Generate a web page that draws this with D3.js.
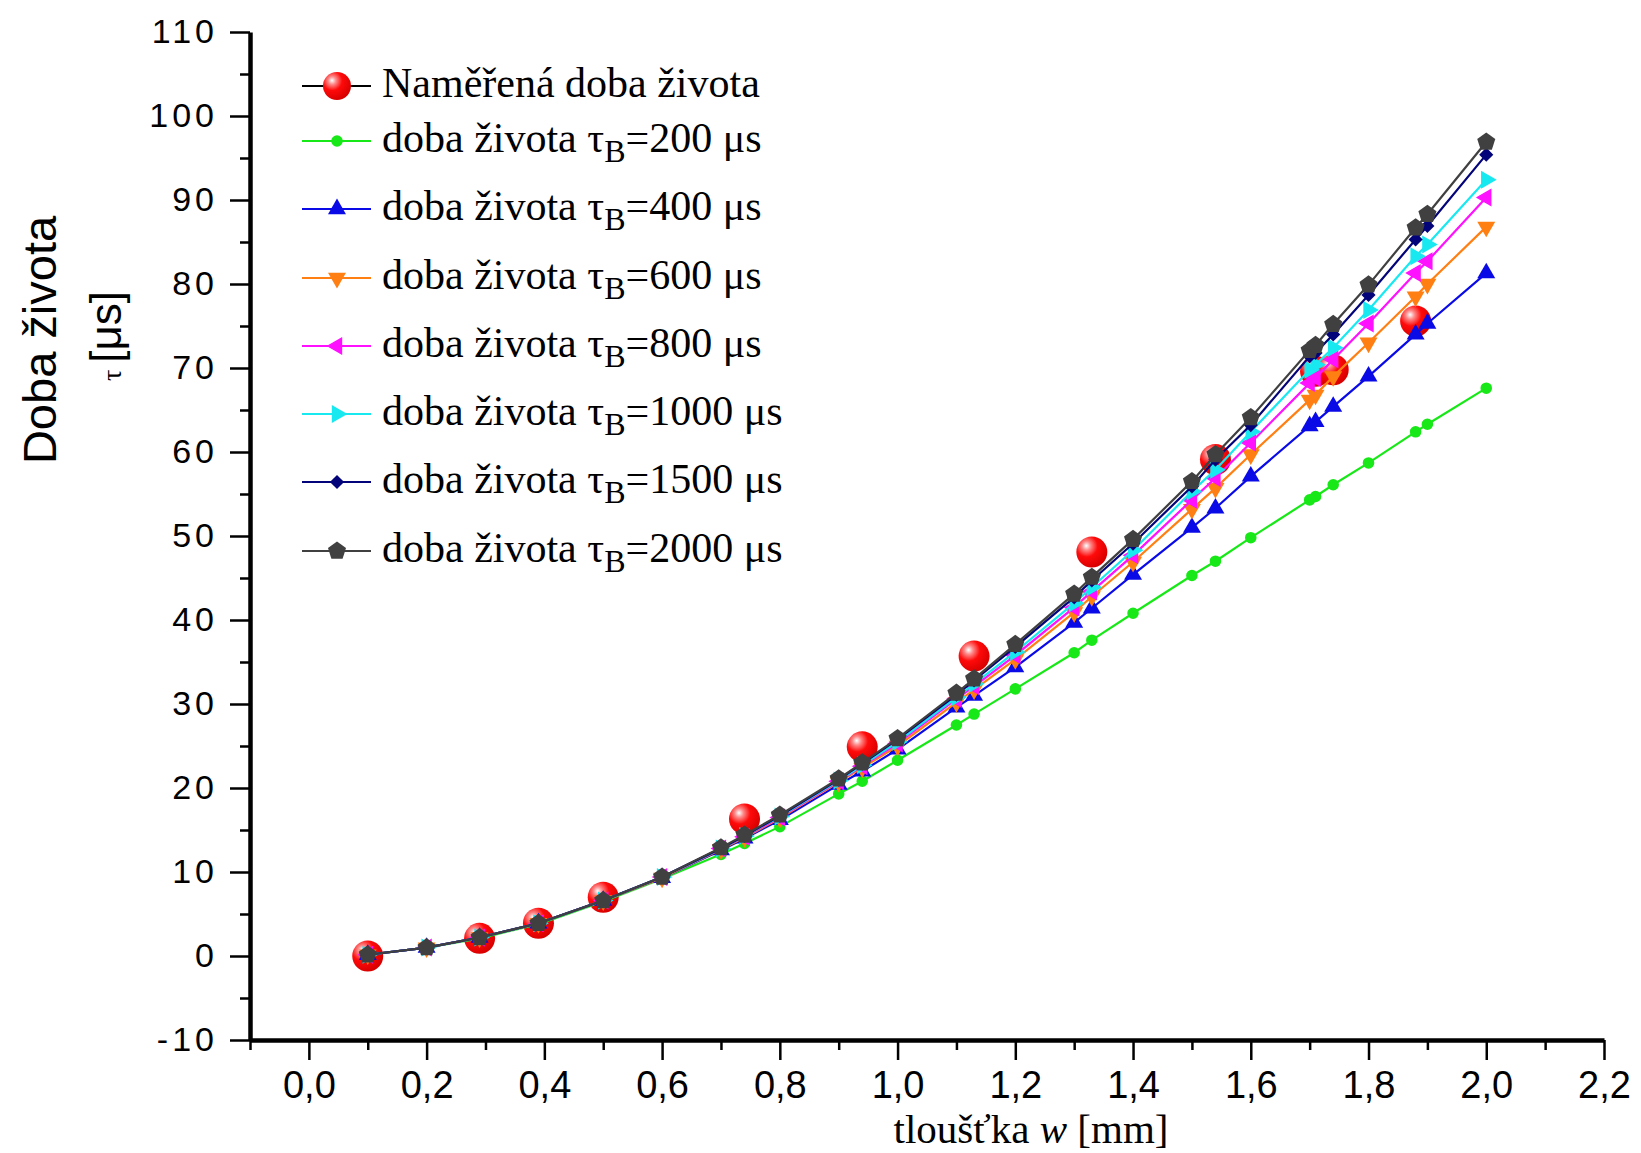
<!DOCTYPE html>
<html>
<head>
<meta charset="utf-8">
<script src="https://cdnjs.cloudflare.com/ajax/libs/d3/7.8.5/d3.min.js"></script>
<style>
  body { margin: 0; background: #fff; }
  svg { display: block; }
</style>
</head>
<body>
<svg id="chart" width="1641" height="1153"></svg>
<script>
'use strict';

// thickness w [mm], shared by all model curves
var thickness = [0.1, 0.2, 0.29, 0.39, 0.5, 0.6, 0.7, 0.74, 0.8, 0.9, 0.94, 1.0, 1.1, 1.13,
  1.2, 1.3, 1.33, 1.4, 1.5, 1.54, 1.6, 1.7, 1.71, 1.74, 1.8, 1.88, 1.9, 2.0];

var tau200 = [0.15, 1.0, 2.1, 3.8, 6.5, 9.2, 12.1, 13.4, 15.4, 19.3, 20.8, 23.3, 27.5, 28.8,
  31.8, 36.1, 37.6, 40.8, 45.3, 47.0, 49.8, 54.3, 54.7, 56.1, 58.7, 62.4, 63.3, 67.6];
var tau400 = [0.15, 1.0, 2.2, 3.9, 6.6, 9.3, 12.6, 14.0, 16.2, 20.4, 22.0, 24.6, 29.6, 31.0,
  34.4, 39.7, 41.4, 45.4, 51.0, 53.3, 57.1, 63.1, 63.6, 65.4, 69.0, 74.0, 75.3, 81.3];
var tau600 = [0.15, 1.0, 2.2, 3.9, 6.6, 9.3, 12.7, 14.1, 16.4, 20.7, 22.4, 25.0, 30.2, 31.7,
  35.3, 40.9, 42.8, 46.9, 53.2, 55.7, 59.7, 66.2, 66.8, 69.0, 73.0, 78.5, 80.0, 86.8];
var tau800 = [0.15, 1.0, 2.2, 3.9, 6.6, 9.4, 12.8, 14.2, 16.5, 20.8, 22.6, 25.3, 30.6, 32.1,
  35.8, 41.5, 43.4, 47.7, 54.3, 56.9, 61.1, 68.2, 68.8, 71.0, 75.3, 81.3, 82.7, 90.3];
var tau1000 = [0.15, 1.0, 2.2, 3.9, 6.6, 9.4, 12.8, 14.3, 16.6, 20.9, 22.7, 25.5, 30.8, 32.4,
  36.2, 42.0, 43.9, 48.3, 55.3, 57.9, 62.4, 69.8, 70.4, 72.4, 76.9, 83.3, 84.7, 92.4];
var tau1500 = [0.15, 1.0, 2.2, 3.9, 6.6, 9.4, 12.8, 14.3, 16.7, 21.0, 22.9, 25.8, 31.1, 32.8,
  36.8, 42.7, 44.7, 49.1, 55.9, 59.1, 63.2, 71.4, 71.8, 74.0, 78.7, 85.3, 86.9, 95.4];
var tau2000 = [0.15, 1.0, 2.2, 3.9, 6.6, 9.4, 12.9, 14.4, 16.8, 21.1, 23.0, 25.9, 31.3, 33.0,
  37.1, 43.1, 45.1, 49.6, 56.5, 59.7, 64.1, 72.1, 72.7, 75.2, 79.9, 86.7, 88.3, 96.9];

// measured lifetime
var measuredW = [0.1, 0.29, 0.39, 0.5, 0.74, 0.94, 1.13, 1.33, 1.54, 1.71, 1.74, 1.88];
var measuredTau = [0.0, 2.1, 3.9, 7.0, 16.3, 24.9, 35.7, 48.1, 59.1, 69.6, 69.8, 75.6];

var seriesNames = ['200', '400', '600', '800', '1000', '1500', '2000'];
var seriesValues = [tau200, tau400, tau600, tau800, tau1000, tau1500, tau2000];
var seriesColors = ['#18e818', '#0a0ae6', '#ff7f12', '#ff10ff', '#18e8f0', '#04047a', '#404040'];
var seriesMarkers = ['circle', 'triUp', 'triDown', 'triLeft', 'triRight', 'diamond', 'pentagon'];

var xTicks = [0.0, 0.2, 0.4, 0.6, 0.8, 1.0, 1.2, 1.4, 1.6, 1.8, 2.0, 2.2];
var yTicks = [-10, 0, 10, 20, 30, 40, 50, 60, 70, 80, 90, 100, 110];

var svg = d3.select('#chart');
var x = d3.scaleLinear().domain([-0.1, 2.2]).range([250, 1604]);
var y = d3.scaleLinear().domain([-10, 110]).range([1040, 32]);

var defs = svg.append('defs');
var grad = defs.append('radialGradient').attr('id', 'ball')
  .attr('cx', '0.35').attr('cy', '0.32').attr('r', '0.7')
  .attr('fx', '0.32').attr('fy', '0.3');
grad.append('stop').attr('offset', '0').attr('stop-color', '#ffffff');
grad.append('stop').attr('offset', '0.2').attr('stop-color', '#ff8a8a');
grad.append('stop').attr('offset', '0.5').attr('stop-color', '#ff0a0a');
grad.append('stop').attr('offset', '1').attr('stop-color', '#d80000');

function markerPath(kind) {
  if (kind === 'circle') {
    return d3.symbol(d3.symbolCircle, 105)();
  }
  if (kind === 'diamond') {
    return d3.symbol(d3.symbolSquare, 100)();
  }
  if (kind === 'pentagon') {
    var p = d3.path();
    for (var i = 0; i < 5; i++) {
      var a = -Math.PI / 2 + i * 2 * Math.PI / 5;
      if (i === 0) { p.moveTo(9.5 * Math.cos(a), 9.5 * Math.sin(a)); }
      else { p.lineTo(9.5 * Math.cos(a), 9.5 * Math.sin(a)); }
    }
    p.closePath();
    return p.toString();
  }
  return d3.symbol(d3.symbolTriangle, 140)();
}

function markerRotate(kind) {
  return {triDown: 180, triLeft: -90, triRight: 90, diamond: 45}[kind] || 0;
}

// axes
var yMinor = d3.range(-5, 110, 10);
var xMinor = d3.range(-0.1, 2.2, 0.2);

var gy = svg.append('g').attr('transform', 'translate(250,0)');
gy.call(d3.axisLeft(y).tickValues(yMinor).tickFormat('').tickSize(10).tickSizeOuter(0));
gy.call(function (g) { g.select('.domain').remove(); });
var gy2 = svg.append('g').attr('transform', 'translate(250,0)');
gy2.call(d3.axisLeft(y).tickValues(yTicks).tickSize(20).tickPadding(12).tickSizeOuter(0)
  .tickFormat(function (d) { return String(d); }));

var gx = svg.append('g').attr('transform', 'translate(0,1040)');
gx.call(d3.axisBottom(x).tickValues(xMinor).tickFormat('').tickSize(10).tickSizeOuter(0));
gx.call(function (g) { g.select('.domain').remove(); });
var gx2 = svg.append('g').attr('transform', 'translate(0,1040)');
gx2.call(d3.axisBottom(x).tickValues(xTicks).tickSize(20).tickPadding(11).tickSizeOuter(0)
  .tickFormat(function (d) { return d3.format('.1f')(d).replace('.', ','); }));

svg.selectAll('.tick line').attr('stroke', '#000').attr('stroke-width', 2.5);
svg.selectAll('.domain').attr('stroke', '#000').attr('stroke-width', 4.5);
gy2.selectAll('text').attr('font-family', 'Liberation Sans, Arial, sans-serif')
  .attr('font-size', 34).attr('letter-spacing', 4).attr('fill', '#000');
gx2.selectAll('text').attr('font-family', 'Liberation Sans, Arial, sans-serif')
  .attr('font-size', 38).attr('fill', '#000');

// axis titles
svg.append('text').attr('transform', 'translate(40,340) rotate(-90)')
  .attr('text-anchor', 'middle').attr('dy', '0.35em')
  .attr('font-family', 'Liberation Sans, Arial, sans-serif').attr('font-size', 47)
  .text('Doba života');
var yl2 = svg.append('text').attr('transform', 'translate(106,336) rotate(-90)')
  .attr('text-anchor', 'middle').attr('dy', '0.35em')
  .attr('font-family', 'Liberation Sans, Arial, sans-serif').attr('font-size', 44);
yl2.append('tspan').attr('font-family', 'Liberation Serif, serif').attr('font-size', 28).text('τ ');
yl2.append('tspan').text('[μs]');

var xl = svg.append('text').attr('x', 1031).attr('y', 1143).attr('text-anchor', 'middle')
  .attr('font-family', 'Liberation Serif, Times New Roman, serif').attr('font-size', 41);
xl.append('tspan').text('tloušťka ');
xl.append('tspan').attr('font-style', 'italic').text('w');
xl.append('tspan').text(' [mm]');

// measured points (behind the curves)
svg.append('g').selectAll('circle').data(measuredW).enter().append('circle')
  .attr('cx', function (d) { return x(d); })
  .attr('cy', function (d, i) { return y(measuredTau[i]); })
  .attr('r', 15.5)
  .attr('fill', 'url(#ball)');

// model curves
var line = d3.line()
  .x(function (d) { return x(d[0]); })
  .y(function (d) { return y(d[1]); });

seriesValues.forEach(function (vals, s) {
  var pts = thickness.map(function (w, i) { return [w, vals[i]]; });
  var g = svg.append('g');
  g.append('path').datum(pts).attr('d', line)
    .attr('fill', 'none').attr('stroke', seriesColors[s]).attr('stroke-width', 2.2);
  g.selectAll('path.m').data(pts).enter().append('path').attr('class', 'm')
    .attr('d', markerPath(seriesMarkers[s]))
    .attr('transform', function (d) {
      return 'translate(' + x(d[0]) + ',' + y(d[1]) + ') rotate(' + markerRotate(seriesMarkers[s]) + ')';
    })
    .attr('fill', seriesColors[s]);
});

// legend
var legRows = [86, 141, 209, 278, 346, 414, 482, 551];
var leg = svg.append('g');
legRows.forEach(function (ry, i) {
  var col = i === 0 ? '#000' : seriesColors[i - 1];
  leg.append('line').attr('x1', 302).attr('x2', 371).attr('y1', ry).attr('y2', ry)
    .attr('stroke', col).attr('stroke-width', 2);
  if (i === 0) {
    leg.append('circle').attr('cx', 337).attr('cy', ry).attr('r', 14).attr('fill', 'url(#ball)');
  } else {
    var kind = seriesMarkers[i - 1];
    leg.append('path').attr('d', markerPath(kind))
      .attr('transform', 'translate(337,' + ry + ') rotate(' + markerRotate(kind) + ')')
      .attr('fill', col);
  }
  var t = leg.append('text').attr('x', 382).attr('y', ry + 11)
    .attr('font-family', 'Liberation Serif, Times New Roman, serif').attr('font-size', 42)
    .attr('fill', '#000');
  if (i === 0) {
    t.text('Naměřená doba života');
  } else {
    t.append('tspan').text('doba života τ');
    t.append('tspan').attr('font-size', 32).attr('dy', 10).text('B');
    t.append('tspan').attr('dy', -10).text('=' + seriesNames[i - 1] + ' μs');
  }
});
</script>
</body>
</html>
